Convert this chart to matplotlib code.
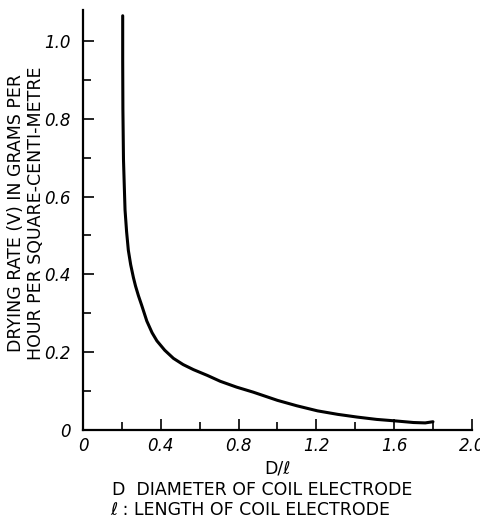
import matplotlib
matplotlib.use("Agg")
import matplotlib.pyplot as plt
from matplotlib.ticker import MultipleLocator

# values
d_over_l = [0.204, 0.204, 0.205, 0.208, 0.212, 0.216, 0.224, 0.233, 0.245, 0.259,
            0.270, 0.285, 0.302, 0.328, 0.355, 0.380, 0.420, 0.465, 0.515, 0.568,
            0.640, 0.706, 0.790, 0.876, 1.000, 1.100, 1.206, 1.310, 1.410, 1.510,
            1.610, 1.700, 1.760, 1.800]
drying_rate = [1.065, 0.950, 0.826, 0.696, 0.630, 0.566, 0.510, 0.462, 0.425, 0.392,
               0.370, 0.345, 0.320, 0.280, 0.250, 0.229, 0.205, 0.184, 0.168, 0.155,
               0.140, 0.125, 0.110, 0.097, 0.076, 0.062, 0.049, 0.040, 0.033, 0.027,
               0.023, 0.019, 0.018, 0.021]

x_ticks = [0, 0.4, 0.8, 1.2, 1.6, 2.0]
x_tick_labels = ['0', '0.4', '0.8', '1.2', '1.6', '2.0']
y_ticks = [0, 0.2, 0.4, 0.6, 0.8, 1.0]
y_tick_labels = ['0', '0.2', '0.4', '0.6', '0.8', '1.0']

fig = plt.figure(figsize=(4.8, 5.23), dpi=100)
ax = fig.add_axes([0.173, 0.178, 0.81, 0.803])

ax.plot(d_over_l, drying_rate, color='black', lw=2.2,
        solid_capstyle='round', solid_joinstyle='round')

ax.set_xlim(0, 2.0)
ax.set_ylim(0, 1.08)
for s in ['top', 'right']:
    ax.spines[s].set_visible(False)
for s in ['left', 'bottom']:
    ax.spines[s].set_linewidth(1.6)

ax.set_xticks(x_ticks)
ax.set_xticklabels(x_tick_labels, fontstyle='italic', fontsize=12)
ax.set_yticks(y_ticks)
ax.set_yticklabels(y_tick_labels, fontstyle='italic', fontsize=12)
ax.xaxis.set_minor_locator(MultipleLocator(0.2))
ax.yaxis.set_minor_locator(MultipleLocator(0.1))
ax.tick_params(which='major', direction='in', length=8, width=1.2, pad=5)
ax.tick_params(which='minor', direction='in', length=6, width=1.2)
ax.tick_params(axis='y', which='major', pad=9)

ax.set_xlabel('D/ℓ', fontsize=12.5, labelpad=3)

fig.text(0.033, 0.593, 'DRYING RATE (V) IN GRAMS PER', rotation=90,
         ha='center', va='center', fontsize=12.5)
fig.text(0.075, 0.593, 'HOUR PER SQUARE-CENTI-METRE', rotation=90,
         ha='center', va='center', fontsize=12.5)

fig.text(0.233, 0.063, 'D  DIAMETER OF COIL ELECTRODE', ha='left', va='center', fontsize=12.5)
fig.text(0.229, 0.025, 'ℓ : LENGTH OF COIL ELECTRODE', ha='left', va='center', fontsize=12.5)

fig.savefig('out.png', dpi=100)
